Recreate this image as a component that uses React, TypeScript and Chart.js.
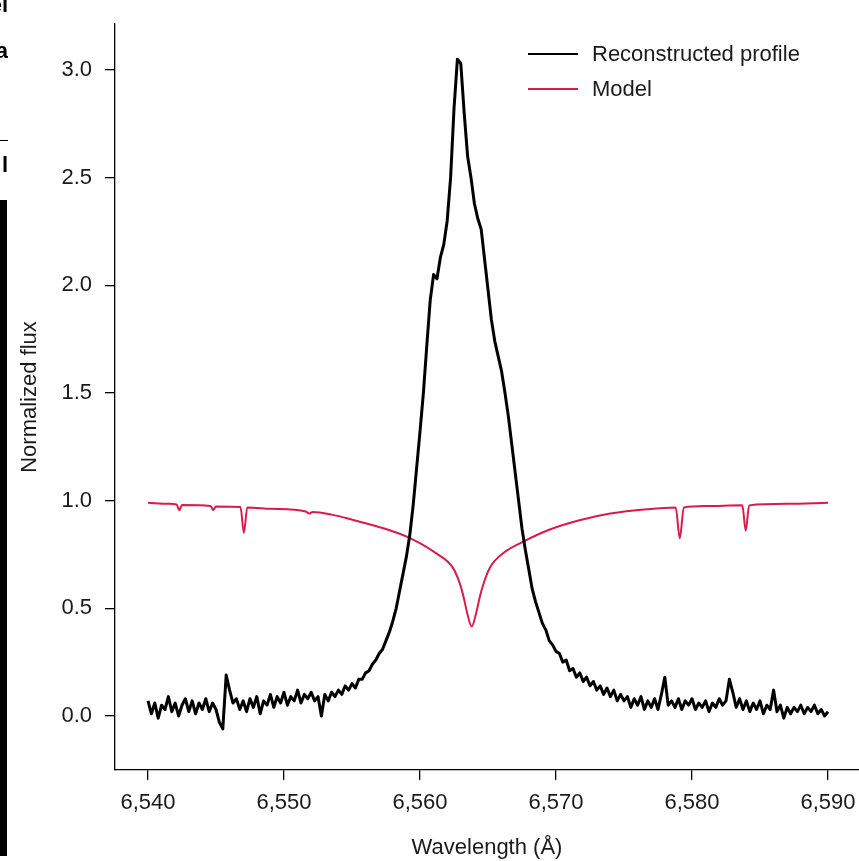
import React, { useEffect, useRef } from "react";
import { Chart, registerables } from "chart.js";

Chart.register(...registerables);

// ---- Data ----
const xTickValues = [6540, 6550, 6560, 6570, 6580, 6590];
const yTickValues = [0, 0.5, 1.0, 1.5, 2.0, 2.5, 3.0];

// Reconstructed profile: sampled every 0.25 Å starting at 6540 Å
const profileStart = 6540;
const profileStep = 0.25;
const profileFlux = [
  0.07, 0.01, 0.06, -0.01, 0.05, 0.03, 0.09, 0.02, 0.06, 0.0,
  0.05, 0.08, 0.02, 0.07, 0.01, 0.06, 0.03, 0.08, 0.02, 0.06,
  0.03, -0.03, -0.06, 0.19, 0.12, 0.06, 0.08, 0.03, 0.07, 0.02,
  0.08, 0.04, 0.09, 0.01, 0.07, 0.05, 0.10, 0.04, 0.09, 0.06,
  0.11, 0.05, 0.09, 0.07, 0.12, 0.06, 0.10, 0.08, 0.11, 0.07,
  0.09, 0.0, 0.10, 0.07, 0.11, 0.09, 0.12, 0.10, 0.14, 0.12,
  0.15, 0.13, 0.17, 0.17, 0.20, 0.21, 0.24, 0.26, 0.29, 0.31,
  0.35, 0.39, 0.44, 0.50, 0.58, 0.66, 0.74, 0.84, 0.98, 1.15,
  1.32, 1.50, 1.72, 1.93, 2.05, 2.03, 2.13, 2.19, 2.30, 2.50,
  2.82, 3.05, 3.03, 2.80, 2.60, 2.50, 2.38, 2.31, 2.26, 2.12,
  1.98, 1.84, 1.74, 1.67, 1.60, 1.50, 1.39, 1.26, 1.13, 1.00,
  0.87, 0.77, 0.68, 0.59, 0.53, 0.48, 0.43, 0.40, 0.35, 0.33,
  0.30, 0.29, 0.25, 0.26, 0.21, 0.22, 0.18, 0.20, 0.16, 0.18,
  0.14, 0.16, 0.12, 0.14, 0.10, 0.13, 0.09, 0.12, 0.07, 0.10,
  0.07, 0.09, 0.04, 0.08, 0.05, 0.09, 0.03, 0.07, 0.04, 0.08,
  0.03, 0.10, 0.18, 0.05, 0.07, 0.04, 0.08, 0.03, 0.07, 0.05,
  0.08, 0.03, 0.06, 0.04, 0.07, 0.02, 0.06, 0.04, 0.08, 0.05,
  0.07, 0.17, 0.11, 0.04, 0.08, 0.03, 0.07, 0.02, 0.06, 0.03,
  0.07, 0.01, 0.05, 0.03, 0.12, 0.02, 0.05, -0.01, 0.04, 0.01,
  0.04, 0.02, 0.05, 0.01, 0.04, 0.02, 0.05, 0.01, 0.03, 0.0,
  0.02,
];

// Model: wavelength / flux pairs
const modelWavelength = [
  6540, 6541.5, 6542.1, 6542.3, 6542.5, 6544.6, 6544.8, 6545.0, 6546.8, 6547.05,
  6547.3, 6549, 6551.6, 6551.85, 6552.1, 6553.5, 6555.1, 6557.55, 6559.3, 6561.2,
  6562.4, 6562.9, 6563.2, 6563.5, 6563.8, 6564.1, 6564.4, 6564.7, 6565.15, 6566.2,
  6567.6, 6569.5, 6571.8, 6574, 6576.7, 6578.8, 6579.1, 6579.4, 6581, 6583.7,
  6583.95, 6584.2, 6587, 6590,
];
const modelFlux = [
  0.99, 0.985, 0.982, 0.955, 0.98, 0.975, 0.957, 0.973, 0.97, 0.85,
  0.968, 0.962, 0.95, 0.94, 0.947, 0.935, 0.91, 0.867, 0.825, 0.755,
  0.69, 0.62, 0.554, 0.47, 0.415, 0.47, 0.554, 0.62, 0.69, 0.76,
  0.81, 0.865, 0.91, 0.94, 0.96, 0.968, 0.825, 0.968, 0.975, 0.978,
  0.86, 0.978, 0.985, 0.99,
];

const seriesLabels = ["Reconstructed profile", "Model"];
const seriesColors = ["#000000", "#d81b4b"];

const FONT = '"Liberation Sans", Arial, Helvetica, sans-serif';
const TEXT = "#1a1a1a";

const insetLegend = {
  id: "insetLegend",
  afterDraw(chart: any) {
    const ctx = chart.ctx;
    chart.data.datasets.forEach((ds: any, i: number) => {
      const y = 54 + i * 35;
      ctx.save();
      ctx.strokeStyle = ds.borderColor;
      ctx.lineWidth = 2;
      ctx.beginPath();
      ctx.moveTo(528, y);
      ctx.lineTo(578, y);
      ctx.stroke();
      ctx.fillStyle = TEXT;
      ctx.font = `22px ${FONT}`;
      ctx.textBaseline = "middle";
      ctx.textAlign = "left";
      ctx.fillText(ds.label, 592, y + 1);
      ctx.restore();
    });
  },
};

const noScalePadding = (scale: any) => {
  scale.paddingLeft = 0;
  scale.paddingRight = 0;
  scale.paddingTop = 0;
  scale.paddingBottom = 0;
};

export default function App() {
  const ref = useRef<HTMLCanvasElement | null>(null);

  useEffect(() => {
    if (!ref.current) return;
    const profile = profileFlux.map((f, i) => ({ x: profileStart + i * profileStep, y: f }));
    const model = modelWavelength.map((w, i) => ({ x: w, y: modelFlux[i] }));

    const chart = new Chart(ref.current, {
      type: "line",
      data: {
        datasets: [
          {
            label: seriesLabels[0],
            data: profile,
            borderColor: seriesColors[0],
            borderWidth: 3,
            pointRadius: 0,
            tension: 0,
            borderJoinStyle: "round",
          },
          {
            label: seriesLabels[1],
            data: model,
            borderColor: seriesColors[1],
            borderWidth: 2,
            pointRadius: 0,
            cubicInterpolationMode: "monotone",
          },
        ],
      },
      options: {
        animation: false,
        responsive: false,
        devicePixelRatio: 1,
        layout: { padding: { top: 24, left: 0, right: 0, bottom: 0 } },
        plugins: { legend: { display: false }, tooltip: { enabled: false } },
        scales: {
          x: {
            type: "linear",
            min: 6537.574,
            max: 6592.279,
            afterBuildTicks: (scale: any) => {
              scale.ticks = xTickValues.map((v) => ({ value: v }));
            },
            afterFit: (scale: any) => {
              scale.height = 91;
              noScalePadding(scale);
            },
            grid: {
              display: true,
              drawOnChartArea: false,
              drawTicks: true,
              tickLength: 10,
              color: "#000",
              lineWidth: 1.3,
            },
            border: { display: true, color: "#000", width: 1.3 },
            ticks: {
              color: TEXT,
              font: { family: FONT, size: 22 },
              padding: 10,
              maxRotation: 0,
              autoSkip: false,
              callback: (v: any) => Number(v).toLocaleString("en-US"),
            },
            title: {
              display: true,
              text: "Wavelength (Å)",
              color: TEXT,
              font: { family: FONT, size: 22 },
              padding: { top: 0, bottom: 0 },
            },
          },
          y: {
            type: "linear",
            min: -0.251,
            max: 3.2136,
            afterBuildTicks: (scale: any) => {
              scale.ticks = yTickValues.map((v) => ({ value: v }));
            },
            afterFit: (scale: any) => {
              scale.width = 115;
              noScalePadding(scale);
            },
            grid: {
              display: true,
              drawOnChartArea: false,
              drawTicks: true,
              tickLength: 10,
              color: "#000",
              lineWidth: 1.3,
            },
            border: { display: true, color: "#000", width: 1.3 },
            ticks: {
              color: TEXT,
              font: { family: FONT, size: 22 },
              padding: 13,
              autoSkip: false,
              callback: (v: any) => Number(v).toFixed(1),
            },
            title: {
              display: true,
              text: "Normalized flux",
              color: TEXT,
              font: { family: FONT, size: 22 },
              padding: { top: 17, bottom: 0 },
            },
          },
        },
      },
      plugins: [insetLegend],
    });
    return () => chart.destroy();
  }, []);

  return (
    <div style={{ position: "fixed", left: 0, top: 0, width: 859, height: 861, background: "#fff", overflow: "hidden" }}>
      <canvas ref={ref} width={859} height={861} style={{ width: 859, height: 861, display: "block" }} />
      <div style={{ position: "absolute", left: 0, top: 200, width: 7, height: 656, background: "#000" }} />
      <div style={{ position: "absolute", left: 0, top: 0, width: 8, height: 190, overflow: "hidden" }}>
        <div style={{ position: "absolute", right: 0, top: -8, font: `bold 22px ${FONT}`, color: "#000", whiteSpace: "nowrap" }}>el</div>
        <div style={{ position: "absolute", right: 0, top: 38, font: `bold 22px ${FONT}`, color: "#000", whiteSpace: "nowrap" }}>a</div>
        <div style={{ position: "absolute", left: 0, top: 140, width: 8, height: 1, background: "#000" }} />
        <div style={{ position: "absolute", right: 0, top: 152, font: `bold 22px ${FONT}`, color: "#000", whiteSpace: "nowrap" }}>l</div>
      </div>
    </div>
  );
}
